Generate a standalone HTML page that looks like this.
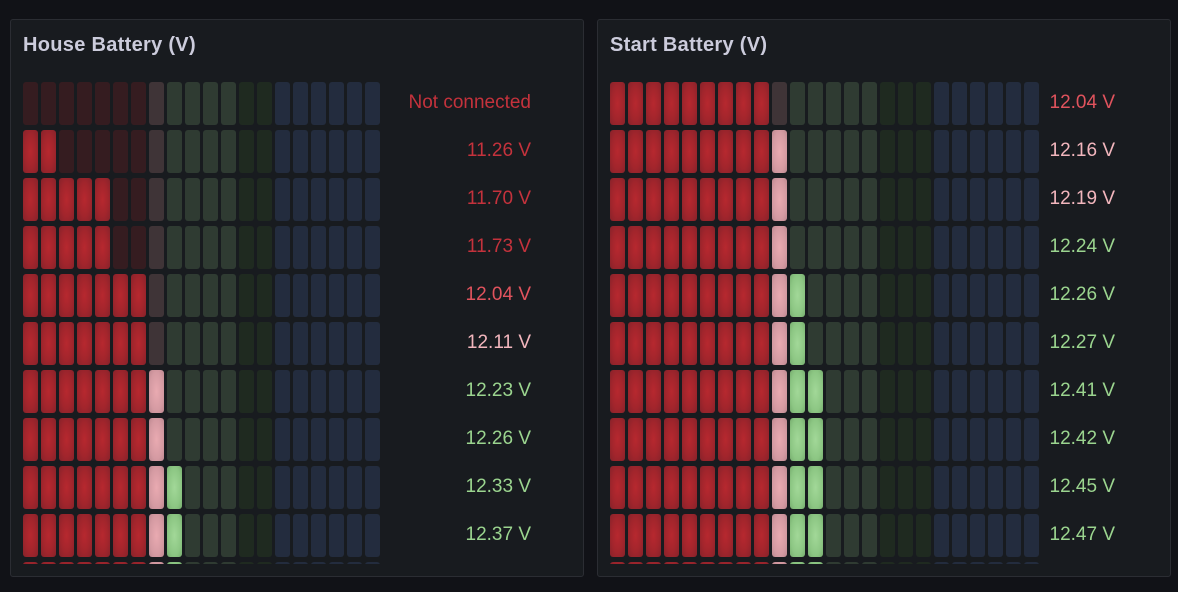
<!DOCTYPE html>
<html><head><meta charset="utf-8">
<style>
html,body{margin:0;padding:0;background:#111217;width:1178px;height:592px;overflow:hidden;font-family:"Liberation Sans",sans-serif;}
.panel{position:absolute;top:19px;width:574px;height:558px;background:#181b1f;border:1px solid #2b2d33;border-radius:3px;box-sizing:border-box;overflow:hidden;}
.title{position:absolute;left:12px;top:14px;font-size:20px;font-weight:bold;color:#ccccdc;letter-spacing:0.3px;}
.grid{position:absolute;left:0;top:62px;width:100%;height:482px;overflow:hidden;}
.cell{position:absolute;width:15px;height:43px;border-radius:3px;}
.val{position:absolute;font-size:19px;text-align:right;width:220px;}
</style></head><body>
<div class="panel" id="p0" style="left:10px">
  <div class="title">House Battery (V)</div>
  <div class="grid" id="g0"></div>
</div>
<div class="panel" id="p1" style="left:597px">
  <div class="title">Start Battery (V)</div>
  <div class="grid" id="g1"></div>
</div>
<script>
const houseValues=[null,11.26,11.70,11.73,12.04,12.11,12.23,12.26,12.33,12.37,12.40];
const startValues=[12.04,12.16,12.19,12.24,12.26,12.27,12.41,12.42,12.45,12.47,12.50];
const houseScale={min:11.0,step:0.16};
const startScale={min:10.75,step:0.15};
const houseBands=[7,1,4,2,6];
const startBands=[9,1,5,3,6];
const OFF=['#351c20','#3f3437','#2f3b32','#1f2a20','#232c3e'];
const ON=['radial-gradient(ellipse at center,#b7282f 0%,#a2252c 55%,#86222a 100%)',
 'radial-gradient(ellipse at center,#e9aab1 0%,#d49aa2 65%,#bd8890 100%)',
 'radial-gradient(ellipse at center,#a2d898 0%,#8cc683 65%,#76ad6e 100%)',
 'radial-gradient(ellipse at center,#a2d898 0%,#8cc683 65%,#76ad6e 100%)',
 '#3d71d9'];
function textColor(v){ if(v==null||v<12) return '#c4323c'; if(v<12.1) return '#e0535d'; if(v<12.2) return '#f2b6bd'; return '#9bd58f'; }
function build(gid,values,scale,bands,textRight){
  const g=document.getElementById(gid);
  const bandOf=[];
  bands.forEach((n,b)=>{for(let k=0;k<n;k++)bandOf.push(b);});
  values.forEach((v,i)=>{
    const lit=v==null?0:Math.ceil((v-scale.min)/scale.step);
    const top=i*48;
    for(let j=0;j<bandOf.length;j++){
      const c=document.createElement('div');
      c.className='cell';
      
      
      c.style.left=(12+18*j)+'px';
      c.style.top=top+'px';
      c.style.background=j<lit?ON[bandOf[j]]:OFF[bandOf[j]];
      g.appendChild(c);
    }
    const t=document.createElement('div');
    t.className='val';
    
    
    t.style.left=(textRight-220)+'px';
    t.style.top=(top+10)+'px';
    t.style.color=textColor(v);
    t.textContent=v==null?'Not connected':v.toFixed(2)+' V';
    g.appendChild(t);
  });
}
build('g0',houseValues,houseScale,houseBands,520);
build('g1',startValues,startScale,startBands,517);
</script>
</body></html>
